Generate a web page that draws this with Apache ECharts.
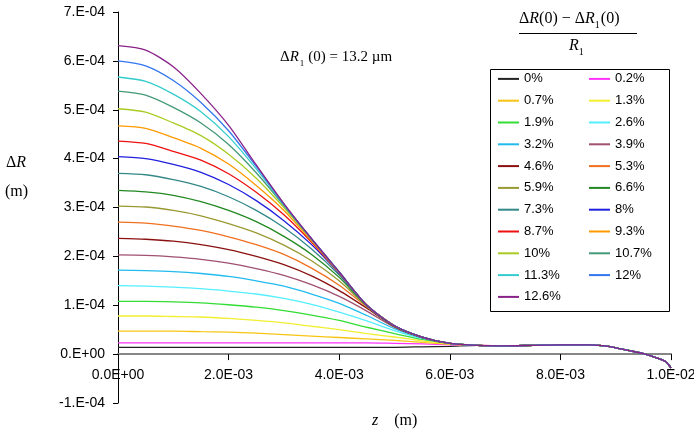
<!DOCTYPE html>
<html>
<head>
<meta charset="utf-8">
<script src="https://cdn.jsdelivr.net/npm/echarts@6/dist/echarts.min.js"></script>
<style>html,body{margin:0;padding:0;background:#fff}#c{width:694px;height:438px}</style>
</head>
<body>
<div id="c"></div>
<script>
// z positions in units of 1e-3 m, ΔR values in units of 1e-4 m
const zHead = [0, 0.5, 1, 1.5, 2, 2.5, 3, 3.5, 4, 4.5, 5, 5.5, 6];
const zTail = [6.5, 7, 7.5, 8, 8.5, 8.8, 9, 9.25, 9.5, 9.75, 9.9, 10];
const tailValues = [0.18, 0.17, 0.18, 0.19, 0.19, 0.17, 0.13, 0.07, 0.01, -0.08, -0.15, -0.28];

const seriesNames = ['0%', '0.2%', '0.7%', '1.3%', '1.9%', '2.6%', '3.2%', '3.9%', '4.6%', '5.3%', '5.9%',
  '6.6%', '7.3%', '8%', '8.7%', '9.3%', '10%', '10.7%', '11.3%', '12%', '12.6%'];

const s000 = [0.14,0.14,0.14,0.14,0.14,0.14,0.14,0.14,0.14,0.14,0.14,0.15,0.16];
const s002 = [0.23,0.23,0.23,0.23,0.23,0.23,0.23,0.23,0.23,0.23,0.22,0.21,0.19];
const s007 = [0.47,0.47,0.47,0.46,0.45,0.43,0.40,0.37,0.34,0.31,0.28,0.24,0.20];
const s013 = [0.78,0.78,0.77,0.76,0.73,0.69,0.64,0.57,0.50,0.42,0.35,0.27,0.21];
const s019 = [1.08,1.08,1.07,1.05,1.01,0.96,0.89,0.80,0.69,0.55,0.42,0.30,0.22];
const s026 = [1.40,1.39,1.37,1.34,1.29,1.23,1.14,1.02,0.86,0.68,0.48,0.32,0.22];
const s032 = [1.72,1.71,1.69,1.65,1.59,1.50,1.39,1.23,1.04,0.79,0.52,0.33,0.22];
const s039 = [2.03,2.02,1.99,1.94,1.86,1.75,1.61,1.42,1.18,0.88,0.55,0.34,0.22];
const s046 = [2.37,2.35,2.31,2.24,2.14,2.00,1.83,1.60,1.30,0.94,0.56,0.34,0.22];
const s053 = [2.70,2.68,2.62,2.53,2.40,2.24,2.04,1.76,1.41,0.97,0.57,0.35,0.22];
const s059 = [3.03,3.01,2.94,2.83,2.67,2.48,2.23,1.91,1.50,0.98,0.57,0.35,0.22];
const s066 = [3.35,3.32,3.25,3.12,2.94,2.71,2.41,2.04,1.57,0.99,0.57,0.35,0.22];
const s073 = [3.70,3.67,3.57,3.43,3.22,2.94,2.59,2.15,1.62,0.99,0.58,0.35,0.22];
const s080 = [4.04,4.00,3.88,3.72,3.47,3.14,2.73,2.24,1.65,1.00,0.58,0.35,0.22];
const s087 = [4.36,4.31,4.15,3.97,3.69,3.31,2.85,2.29,1.66,1.00,0.58,0.35,0.22];
const s093 = [4.67,4.62,4.43,4.21,3.89,3.45,2.94,2.32,1.67,1.00,0.58,0.35,0.22];
const s100 = [5.02,4.95,4.73,4.47,4.09,3.60,3.00,2.34,1.67,1.00,0.58,0.35,0.22];
const s107 = [5.38,5.30,5.05,4.73,4.29,3.71,3.04,2.35,1.68,1.00,0.58,0.35,0.22];
const s113 = [5.67,5.58,5.32,4.96,4.45,3.79,3.06,2.36,1.68,1.00,0.58,0.35,0.22];
const s120 = [6.00,5.90,5.60,5.15,4.57,3.84,3.07,2.36,1.68,1.00,0.58,0.35,0.22];
const s126 = [6.31,6.22,5.88,5.33,4.68,3.87,3.08,2.36,1.68,1.00,0.58,0.35,0.22];

const headValues = [s000,s002,s007,s013,s019,s026,s032,s039,s046,s053,s059,s066,s073,s080,s087,s093,s100,s107,s113,s120,s126];

const seriesColors = ['#222222','#ff33ff','#f7c415','#f2ee30','#33dd33','#55eeff','#22bbee','#a05070','#8b1010','#f07020',
  '#999933','#228822','#338888','#2020dd','#ee1111','#ff9900','#aacc22','#449977','#33cccc','#3377ee','#882288'];

const yTickLabels = ['-1.E-04','0.E+00','1.E-04','2.E-04','3.E-04','4.E-04','5.E-04','6.E-04','7.E-04'];
const xTickLabels = ['0.0E+00','2.0E-03','4.0E-03','6.0E-03','8.0E-03','1.0E-02'];

const chart = echarts.init(document.getElementById('c'), null, {renderer: 'canvas'});
const serif = '"Liberation Serif","Times New Roman",serif';
const sans = '"Liberation Sans",Arial,sans-serif';

const series = seriesNames.map((n, i) => ({
  name: n,
  type: 'line',
  data: zHead.map((z, k) => [z, headValues[i][k]]).concat(zTail.map((z, k) => [z, tailValues[k]])),
  symbol: 'none',
  showSymbol: false,
  smooth: 0.25,
  color: seriesColors[i],
  lineStyle: {width: 1.3, color: seriesColors[i]},
  animation: false
}));

const legendBase = {
  top: 70, orient: 'vertical', itemGap: 4, itemWidth: 21, itemHeight: 2, icon: 'rect', padding: 0,
  selectedMode: false,
  textStyle: {fontFamily: sans, fontSize: 13, color: '#000', lineHeight: 17.8}
};

chart.setOption({
  animation: false,
  backgroundColor: '#ffffff',
  grid: {left: 118, right: 23, top: 12, bottom: 35, containLabel: false, outerBoundsMode: 'none'},
  xAxis: {
    type: 'value', min: 0, max: 10, interval: 2, position: 'bottom', offset: -48.9,
    axisLine: {onZero: false, lineStyle: {color: '#868686', width: 2}},
    axisTick: {show: true, inside: false, length: 6, lineStyle: {color: '#000', width: 1}},
    axisLabel: {margin: 14, fontFamily: sans, fontSize: 14, color: '#000',
      formatter: v => xTickLabels[Math.round(v / 2)]},
    splitLine: {show: false}
  },
  yAxis: {
    type: 'value', min: -1, max: 7, interval: 1,
    axisLine: {show: true, onZero: false, lineStyle: {color: '#000', width: 1}},
    axisTick: {show: true, inside: false, length: 5, lineStyle: {color: '#000'}},
    axisLabel: {margin: 13, fontFamily: sans, fontSize: 14, color: '#000',
      formatter: v => yTickLabels[Math.round(v + 1)]},
    splitLine: {show: false}
  },
  legend: [
    Object.assign({}, legendBase, {left: 498, data: seriesNames.filter((n, i) => i % 2 === 0)}),
    Object.assign({}, legendBase, {left: 589, data: seriesNames.filter((n, i) => i % 2 === 1)})
  ],
  graphic: [
    {type: 'rect', shape: {x: 490.5, y: 69.5, width: 179, height: 242}, style: {fill: 'none', stroke: '#000', lineWidth: 1}, z: 10},
    {type: 'text', left: 6, top: 155, style: {text: '{n|Δ}{i|R}', font: '16px ' + serif, fill: '#000',
      rich: {n: {fontFamily: serif, fontSize: 16}, i: {fontFamily: serif, fontSize: 16, fontStyle: 'italic'}}}},
    {type: 'text', left: 5, top: 184, style: {text: '(m)', font: '16px ' + serif, fill: '#000'}},
    {type: 'text', left: 372, top: 413, style: {text: '{i|z}{n|    (m)}', font: '16px ' + serif, fill: '#000',
      rich: {n: {fontFamily: serif, fontSize: 16}, i: {fontFamily: serif, fontSize: 16, fontStyle: 'italic'}}}},
    {type: 'text', left: 280, top: 50, style: {text: '{n|Δ}{i|R}{s|1}{n|(0) = 13.2 µm}', fill: '#000',
      rich: {n: {fontFamily: serif, fontSize: 15, lineHeight: 22}, i: {fontFamily: serif, fontSize: 15, fontStyle: 'italic', lineHeight: 22},
        s: {fontFamily: serif, fontSize: 9, lineHeight: 9, verticalAlign: 'bottom', padding: [0, 4, 0, 1]}}}},
    {type: 'text', left: 519, top: 11, style: {text: '{n|Δ}{i|R}{n|(0) − Δ}{i|R}{s|1}{n|(0)}', fill: '#000',
      rich: {n: {fontFamily: serif, fontSize: 16, lineHeight: 22}, i: {fontFamily: serif, fontSize: 16, fontStyle: 'italic', lineHeight: 22},
        s: {fontFamily: serif, fontSize: 10, lineHeight: 10, verticalAlign: 'bottom', padding: [0, 1, 0, 0]}}}},
    {type: 'line', shape: {x1: 519, y1: 33.5, x2: 637, y2: 33.5}, style: {stroke: '#000', lineWidth: 1}},
    {type: 'text', left: 569, top: 38, style: {text: '{i|R}{s|1}', fill: '#000',
      rich: {i: {fontFamily: serif, fontSize: 16, fontStyle: 'italic', lineHeight: 22},
        s: {fontFamily: serif, fontSize: 10, lineHeight: 10, verticalAlign: 'bottom'}}}}
  ],
  series: series
});
</script>
</body>
</html>
